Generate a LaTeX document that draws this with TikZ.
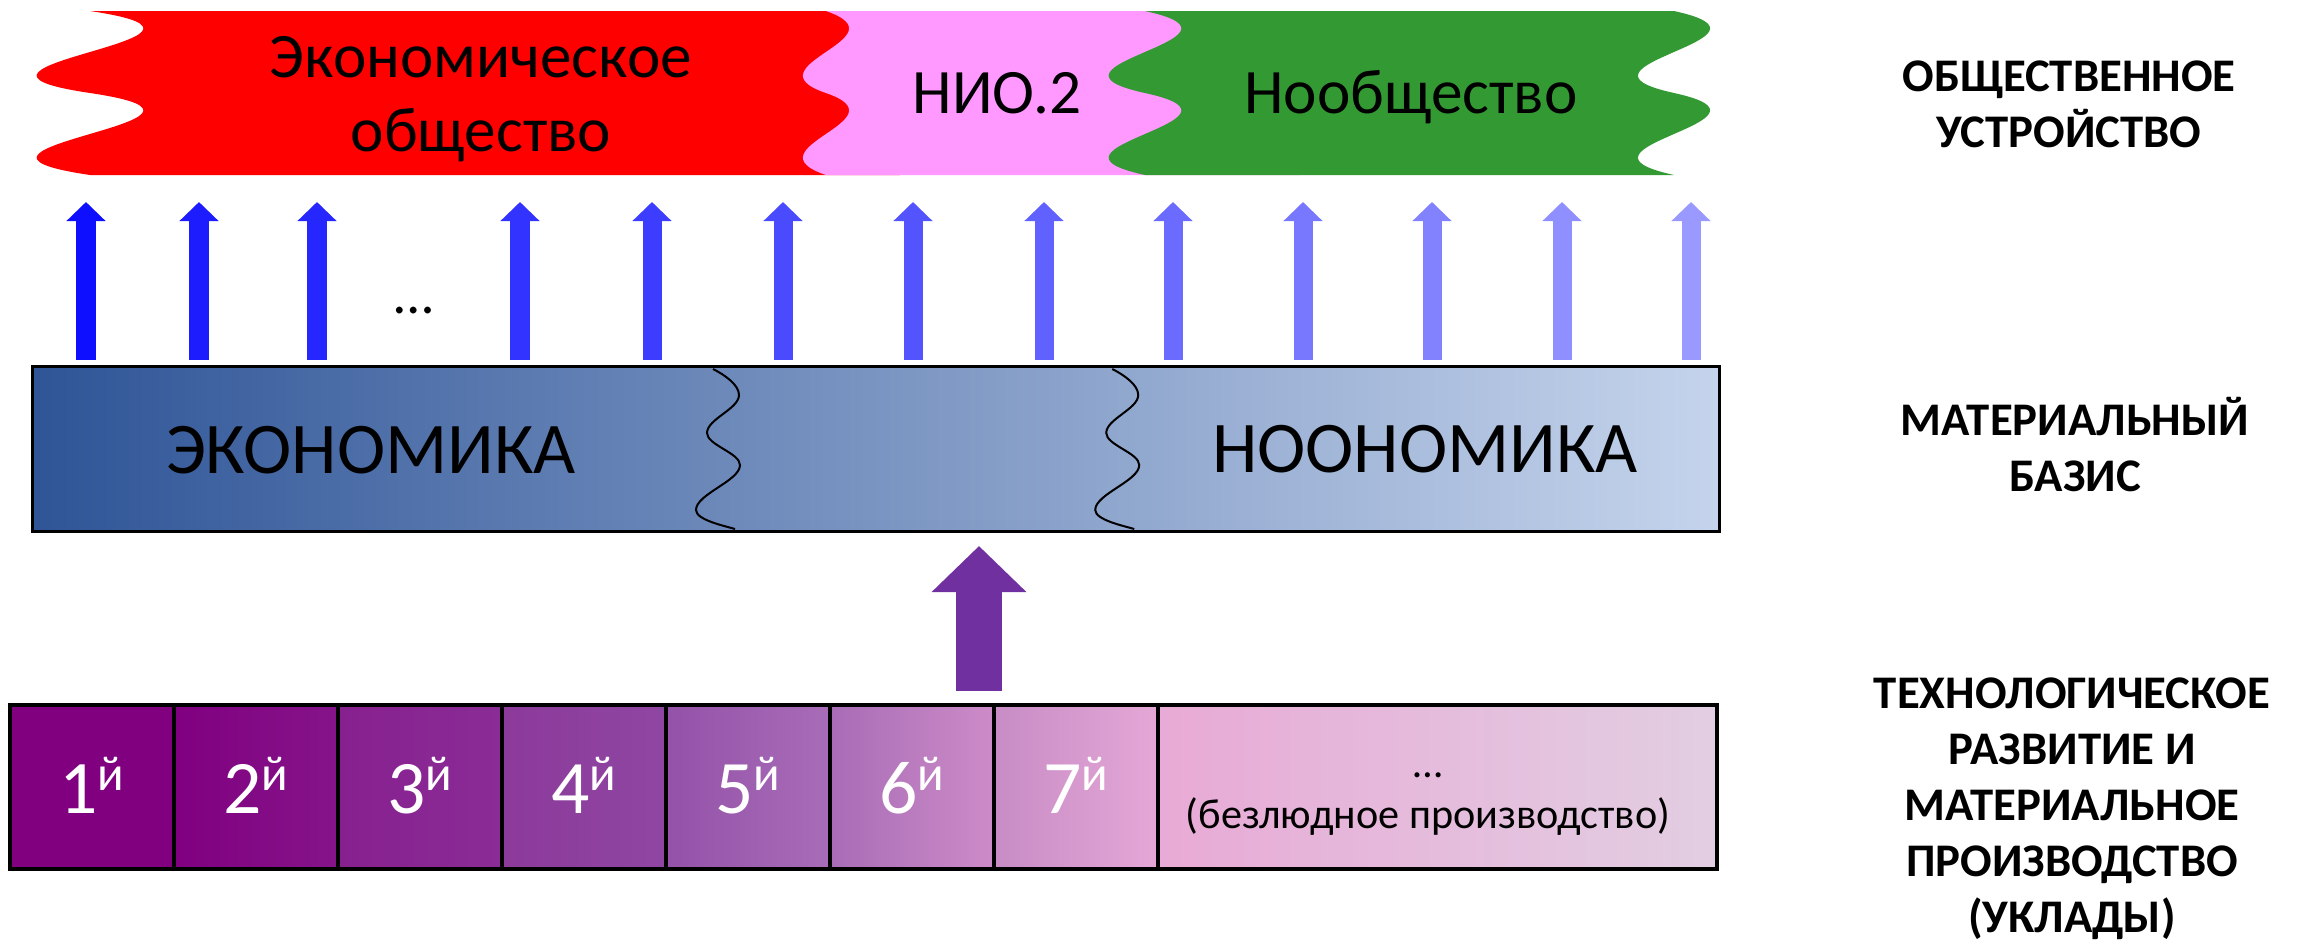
\documentclass[tikz,border=0pt]{standalone}
\usepackage{fontspec}
\setmainfont{Carlito}
\usetikzlibrary{arrows.meta}
\definecolor{ecored}{RGB}{255,0,0}
\definecolor{niopink}{RGB}{255,153,255}
\definecolor{noogreen}{RGB}{51,153,51}
\definecolor{mbL}{RGB}{47,85,151}
\definecolor{mbR}{RGB}{197,212,236}
\definecolor{upurple}{RGB}{112,48,160}
\definecolor{c1l}{RGB}{128,0,128}\definecolor{c1r}{RGB}{128,0,128}
\definecolor{c2l}{RGB}{128,0,128}\definecolor{c2r}{RGB}{133,20,137}
\definecolor{c3l}{RGB}{135,32,143}\definecolor{c3r}{RGB}{138,44,150}
\definecolor{c4l}{RGB}{140,58,155}\definecolor{c4r}{RGB}{143,70,162}
\definecolor{c5l}{RGB}{148,82,168}\definecolor{c5r}{RGB}{168,108,184}
\definecolor{c6l}{RGB}{168,108,182}\definecolor{c6r}{RGB}{205,140,200}
\definecolor{c7l}{RGB}{200,140,198}\definecolor{c7r}{RGB}{228,167,214}
\definecolor{c8l}{RGB}{232,170,214}\definecolor{c8r}{RGB}{226,206,226}
\newcommand\wavedown[2]{.. controls ({#1+#2},38.33) and ({#1-#2},65.67) .. (#1,93) .. controls ({#1+#2},120.33) and ({#1-#2},147.67) .. (#1,175)}
\newcommand\waveup[2]{.. controls ({#1-#2},147.67) and ({#1+#2},120.33) .. (#1,93) .. controls ({#1-#2},65.67) and ({#1+#2},38.33) .. (#1,11)}
\newcommand\ysup{\raisebox{6.5pt}{\fontsize{14pt}{14pt}\selectfont й}}
\begin{document}
\begin{tikzpicture}[x=0.01cm,y=-0.01cm,
  bandtext/.style={inner sep=0pt, font=\fontsize{18pt}{21pt}\selectfont, align=center},
  sidelabel/.style={inner sep=0pt, anchor=north, align=center, font=\fontsize{13.3pt}{15.9pt}\selectfont\bfseries},
  ecotext/.style={inner sep=0pt, anchor=base, font=\fontsize{20.7pt}{24pt}\selectfont},
  cellbox/.style={draw=black, line width=0.04cm, minimum height=1.635cm, inner sep=0pt},
  cell/.style={cellbox, minimum width=1.64cm, text=white, font=\fontsize{21.5pt}{24pt}\selectfont, text height=0.53cm, text depth=0cm},
  bluearrow/.style={line width=0.19cm, -{Triangle[width=0.38cm,length=0.19cm]}},
  bigarrow/.style={line width=0.46cm, draw=upurple, -{Triangle[width=0.92cm,length=0.46cm]}},
  seam/.style={draw=black, line width=0.02cm},
]
\useasboundingbox (0,0) rectangle (2308,942);

% --- top band: social order ---
\fill[ecored] (90,11) -- (900,11) -- (900,175) -- (90,175) \waveup{90}{185} -- cycle;
\fill[niopink] (826,11) -- (1300,11) \wavedown{1300}{80} -- (826,175) \waveup{826}{80} -- cycle;
\fill[noogreen] (1145,11) -- (1674,11) \wavedown{1674}{125} -- (1145,175) \waveup{1145}{126} -- cycle;
\node[bandtext] (eco) at (481,99) {Экономическое\\общество};
\node[bandtext, anchor=base] (nio) at (997,113) {НИО.2};
\node[bandtext, anchor=base] (noo) at (1411,113) {Нообщество};

% --- blue arrows ---
\foreach \x [count=\i from 0] in {86,199,317,520,652,783,913,1044,1173,1303,1432,1562,1691} {
  \pgfmathtruncatemacro\bp{94-4.5*\i}
  \coordinate (ab\i) at (\x,360);
  \coordinate (at\i) at (\x,202);
  \draw[bluearrow, draw=blue!\bp!white, fill=blue!\bp!white] (ab\i) -- (at\i);
}
\node[inner sep=0pt, anchor=base, font=\fontsize{16pt}{18pt}\selectfont] (dots) at (414,313) {…};

% --- material basis ---
\node[draw=black, line width=0.03cm, minimum width=16.86cm, minimum height=1.64cm, left color=mbL, right color=mbR, inner sep=0pt] (basis) at (876,449) {};
\draw[seam] (713,369) .. controls (725,375) and (739,385) .. (739,395) .. controls (739,409) and (707,419) .. (707,433) .. controls (707,445) and (740,453) .. (740,465) .. controls (740,481) and (696,494) .. (696,510) .. controls (696,520) and (725,526) .. (735,529);
\begin{scope}[xshift=3.99cm]
\draw[seam] (713,369) .. controls (725,375) and (739,385) .. (739,395) .. controls (739,409) and (707,419) .. (707,433) .. controls (707,445) and (740,453) .. (740,465) .. controls (740,481) and (696,494) .. (696,510) .. controls (696,520) and (725,526) .. (735,529);
\end{scope}
\node[ecotext] (econ) at (371,473) {ЭКОНОМИКА};
\node[ecotext] (noon) at (1425,472) {НООНОМИКА};

% --- purple arrow ---
\coordinate (pb) at (979,691);
\coordinate (pt) at (979,546);
\draw[bigarrow] (pb) -- (pt);

% --- technological modes ---
\node[cell, left color=c1l, right color=c1r] (u1) at (92,786.75) {1\ysup};
\node[cell, left color=c2l, right color=c2r] (u2) at (256,786.75) {2\ysup};
\node[cell, left color=c3l, right color=c3r] (u3) at (420,786.75) {3\ysup};
\node[cell, left color=c4l, right color=c4r] (u4) at (584,786.75) {4\ysup};
\node[cell, left color=c5l, right color=c5r] (u5) at (748,786.75) {5\ysup};
\node[cell, left color=c6l, right color=c6r] (u6) at (912,786.75) {6\ysup};
\node[cell, left color=c7l, right color=c7r] (u7) at (1076,786.75) {7\ysup};
\node[cellbox, minimum width=5.59cm, left color=c8l, right color=c8r] (u8) at (1437.5,786.75) {};
\node[inner sep=0pt, anchor=north, align=center, font=\fontsize{12pt}{14.5pt}\selectfont] (u8t) at (1428,772) {…\\(безлюдное производство)};

% --- side labels ---
\node[sidelabel] (lab1) at (2069,60) {ОБЩЕСТВЕННОЕ\\УСТРОЙСТВО};
\node[sidelabel] (lab2) at (2075,397) {МАТЕРИАЛЬНЫЙ\\БАЗИС};
\node[sidelabel] (lab3) at (2072,677) {ТЕХНОЛОГИЧЕСКОЕ\\РАЗВИТИЕ И\\МАТЕРИАЛЬНОЕ\\ПРОИЗВОДСТВО\\(УКЛАДЫ)};
\end{tikzpicture}
\end{document}
